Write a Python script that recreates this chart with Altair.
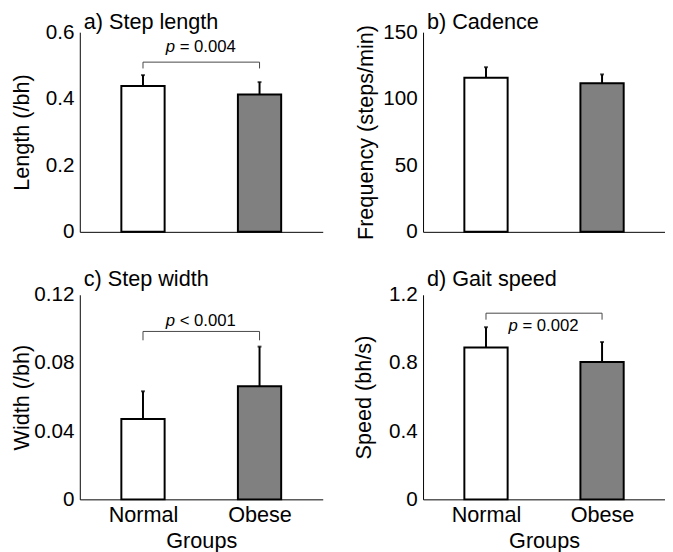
import altair as alt
import pandas as pd

FONT = "Liberation Sans"

groups = ["Normal", "Obese"]
group_pos = [1, 2]
bar_colors = ["#ffffff", "#808080"]

titles = ["a) Step length", "b) Cadence", "c) Step width", "d) Gait speed"]
y_titles = ["Length (/bh)", "Frequency (steps/min)", "Width (/bh)", "Speed (bh/s)"]
y_max = [0.6, 150, 0.12, 1.2]
y_ticks = [
    [0, 0.2, 0.4, 0.6],
    [0, 50, 100, 150],
    [0, 0.04, 0.08, 0.12],
    [0, 0.4, 0.8, 1.2],
]

# means and standard deviations (Normal, Obese)
step_length_mean = [0.438, 0.413]
step_length_sd = [0.033, 0.037]
cadence_mean = [115.7, 111.6]
cadence_sd = [8.0, 6.7]
step_width_mean = [0.0472, 0.0663]
step_width_sd = [0.0162, 0.0233]
gait_speed_mean = [0.891, 0.806]
gait_speed_sd = [0.119, 0.117]

means = [step_length_mean, cadence_mean, step_width_mean, gait_speed_mean]
sds = [step_length_sd, cadence_sd, step_width_sd, gait_speed_sd]

# significance annotations
p_rest = ["= 0.004", None, "< 0.001", "= 0.002"]
bracket_top = [0.510, None, 0.0985, 1.092]
bracket_foot = [0.491, None, 0.0933, 1.054]
p_text_y = [0.539, None, 0.1014, 0.985]

W = 247
H_TOP = 203
H_BOT = 208
title_x = [-47, -46, -47, -48]


def panel(i):
    bottom = i >= 2
    h = H_BOT if bottom else H_TOP
    width = 246 if i % 2 == 1 else W
    df = pd.DataFrame({
        "group": groups,
        "pos": group_pos,
        "mean": means[i],
        "top": [m + s for m, s in zip(means[i], sds[i])],
        "color": bar_colors,
    })
    label_expr = "datum.value == %d ? '%s' : '%s'" % (group_pos[0], groups[0], groups[1])
    if bottom:
        xaxis = alt.Axis(values=group_pos, labelExpr=label_expr, title="Groups",
                         ticks=False, grid=False, labelPadding=6, titlePadding=5,
                         labelFontSize=22, labelFlush=False)
    else:
        xaxis = alt.Axis(values=group_pos, labels=False, title=None, ticks=False, grid=False)
    yaxis = alt.Axis(values=y_ticks[i], labelExpr="'' + datum.value", title=y_titles[i],
                     ticks=False, grid=False, labelPadding=6, titleX=title_x[i],
                     titleY=h / 2, labelFlush=False, labelOverlap=False)
    xs = alt.Scale(domain=[0.5, 2.5], nice=False, zero=False)
    ys = alt.Scale(domain=[0, y_max[i]], nice=False)

    bars = alt.Chart(df).mark_bar(size=44, stroke="black", strokeWidth=2).encode(
        x=alt.X("pos:Q", scale=xs, axis=xaxis),
        y=alt.Y("mean:Q", scale=ys, axis=yaxis),
        fill=alt.Color("color:N", scale=None),
    )
    err = alt.Chart(df).mark_rule(color="black", strokeWidth=2).encode(
        x="pos:Q", y="mean:Q", y2="top:Q"
    )
    cap = alt.Chart(df).mark_tick(orient="horizontal", size=4, thickness=2, color="black").encode(
        x="pos:Q", y="top:Q"
    )
    layers = [err, bars, cap]
    if p_rest[i] is not None:
        bdf = pd.DataFrame({
            "pos": [group_pos[0], group_pos[0], group_pos[1], group_pos[1]],
            "y": [bracket_foot[i], bracket_top[i], bracket_top[i], bracket_foot[i]],
            "k": [0, 1, 2, 3],
        })
        bracket = alt.Chart(bdf).mark_line(color="#444444", strokeWidth=1).encode(
            x="pos:Q", y="y:Q", order="k:Q"
        )
        mid = (group_pos[0] + group_pos[1]) / 2
        tdf = pd.DataFrame({"pos": [mid], "y": [p_text_y[i]], "p": ["p"], "rest": [p_rest[i]]})
        p_it = alt.Chart(tdf).mark_text(align="left", baseline="alphabetic", dx=-36,
                                        fontSize=17, fontStyle="italic", font=FONT,
                                        color="black").encode(x="pos:Q", y="y:Q", text="p:N")
        p_txt = alt.Chart(tdf).mark_text(align="left", baseline="alphabetic", dx=-22,
                                         fontSize=17, font=FONT,
                                         color="black").encode(x="pos:Q", y="y:Q", text="rest:N")
        layers += [bracket, p_it, p_txt]
    return alt.layer(*layers).properties(
        width=width, height=h,
        title=alt.TitleParams(titles[i], anchor="start", frame="group", dx=4,
                              offset=(-7 if bottom else -13), fontSize=22,
                              fontWeight="normal", font=FONT, color="black"),
    )


chart = alt.concat(
    panel(0), panel(1), panel(2), panel(3),
    columns=2,
    spacing={"row": 27, "column": 31},
    align="each",
).properties(padding={"left": 3, "top": -1, "right": 0, "bottom": 0}).configure_view(
    stroke=None
).configure_axis(
    labelFont=FONT, titleFont=FONT, labelFontSize=21, titleFontSize=22,
    titleFontWeight="normal", labelColor="black", titleColor="black",
    domainColor="black", domainWidth=1,
)

chart.save("out.html", embed_options={"renderer": "svg", "actions": False})
